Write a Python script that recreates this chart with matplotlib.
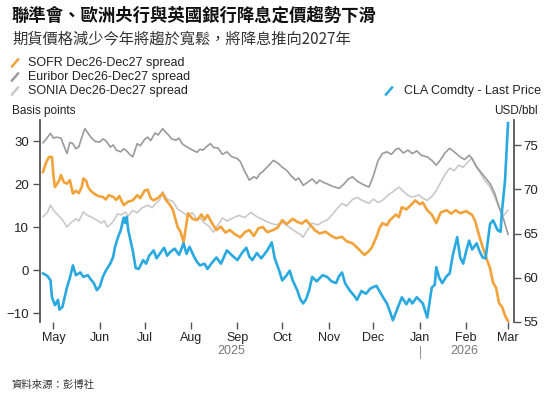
import numpy as np
import matplotlib
matplotlib.use("Agg")
import matplotlib.pyplot as plt
import matplotlib.dates as mdates
from matplotlib.lines import Line2D

plt.rcParams["font.family"] = ["Liberation Sans", "Noto Sans CJK TC", "DejaVu Sans"]

# --- data ---
sofr_dates = ["2025-04-24", "2025-04-26", "2025-04-28", "2025-04-30", "2025-05-01", "2025-05-02",
              "2025-05-05", "2025-05-06", "2025-05-08", "2025-05-10", "2025-05-12", "2025-05-14",
              "2025-05-16", "2025-05-18", "2025-05-20", "2025-05-21", "2025-05-23", "2025-05-24",
              "2025-05-26", "2025-05-28", "2025-05-31", "2025-06-03", "2025-06-05", "2025-06-07",
              "2025-06-10", "2025-06-12", "2025-06-14", "2025-06-17", "2025-06-20", "2025-06-23",
              "2025-06-26", "2025-06-28", "2025-07-01", "2025-07-03", "2025-07-05", "2025-07-07",
              "2025-07-10", "2025-07-13", "2025-07-15", "2025-07-18", "2025-07-20", "2025-07-23",
              "2025-07-25", "2025-07-27", "2025-07-29", "2025-07-30", "2025-08-02", "2025-08-05",
              "2025-08-08", "2025-08-10", "2025-08-12", "2025-08-15", "2025-08-18", "2025-08-21",
              "2025-08-24", "2025-08-27", "2025-08-30", "2025-09-03", "2025-09-06", "2025-09-09",
              "2025-09-12", "2025-09-15", "2025-09-18", "2025-09-21", "2025-09-25", "2025-09-28",
              "2025-10-01", "2025-10-04", "2025-10-08", "2025-10-11", "2025-10-14", "2025-10-17",
              "2025-10-20", "2025-10-23", "2025-10-26", "2025-10-30", "2025-11-03", "2025-11-06",
              "2025-11-10", "2025-11-13", "2025-11-17", "2025-11-21", "2025-11-25", "2025-11-28",
              "2025-11-30", "2025-12-03", "2025-12-05", "2025-12-07", "2025-12-10", "2025-12-12",
              "2025-12-16", "2025-12-18", "2025-12-20", "2025-12-23", "2025-12-26", "2025-12-29",
              "2026-01-01", "2026-01-03", "2026-01-06", "2026-01-09", "2026-01-12", "2026-01-15",
              "2026-01-19", "2026-01-22", "2026-01-25", "2026-01-28", "2026-02-01", "2026-02-05",
              "2026-02-07", "2026-02-10", "2026-02-12", "2026-02-15", "2026-02-17", "2026-02-19",
              "2026-02-21", "2026-02-23", "2026-02-25", "2026-02-27", "2026-03-01"]
sofr_vals = [22.9, 25.0, 26.4, 26.4, 22.0, 19.4, 21.0, 22.2, 20.5, 20.2, 21.0, 17.9,
             18.5, 18.0, 19.5, 21.4, 20.8, 19.5, 18.5, 17.9, 17.3, 17.1, 16.5, 17.5,
             17.1, 16.4, 17.3, 15.2, 16.0, 16.3, 17.5, 16.8, 18.6, 18.8, 16.8, 16.3,
             16.9, 17.9, 16.5, 15.2, 14.0, 10.1, 9.0, 6.5, 11.0, 13.3, 12.0, 11.7,
             13.0, 11.8, 12.9, 11.0, 9.4, 10.2, 8.8, 9.4, 8.5, 7.7, 8.9, 9.4,
             8.0, 9.8, 10.1, 8.9, 9.4, 10.0, 11.7, 10.8, 12.0, 11.3, 10.9, 11.7,
             10.5, 9.3, 8.6, 9.0, 8.0, 7.5, 7.8, 6.8, 6.3, 5.0, 3.6, 4.5,
             5.4, 7.8, 9.8, 11.0, 10.5, 11.7, 13.0, 12.4, 14.7, 14.2, 15.2, 16.3,
             15.4, 15.8, 14.0, 13.0, 11.0, 13.5, 14.0, 13.2, 14.0, 13.3, 13.8, 12.9,
             11.5, 7.7, 5.5, 2.4, 0.5, -2.9, -4.0, -7.6, -8.5, -10.5, -11.8]

euribor_dates = ["2025-04-24", "2025-04-26", "2025-04-29", "2025-05-01", "2025-05-03", "2025-05-06",
                 "2025-05-08", "2025-05-10", "2025-05-12", "2025-05-14", "2025-05-16", "2025-05-18",
                 "2025-05-20", "2025-05-22", "2025-05-24", "2025-05-26", "2025-05-29", "2025-06-01",
                 "2025-06-03", "2025-06-05", "2025-06-08", "2025-06-10", "2025-06-12", "2025-06-15",
                 "2025-06-17", "2025-06-19", "2025-06-21", "2025-06-23", "2025-06-26", "2025-06-28",
                 "2025-07-01", "2025-07-03", "2025-07-05", "2025-07-08", "2025-07-10", "2025-07-13",
                 "2025-07-15", "2025-07-17", "2025-07-19", "2025-07-22", "2025-07-24", "2025-07-26",
                 "2025-07-28", "2025-07-31", "2025-08-03", "2025-08-05", "2025-08-07", "2025-08-09",
                 "2025-08-12", "2025-08-14", "2025-08-16", "2025-08-19", "2025-08-22", "2025-08-25",
                 "2025-08-28", "2025-09-01", "2025-09-03", "2025-09-06", "2025-09-09", "2025-09-12",
                 "2025-09-14", "2025-09-16", "2025-09-18", "2025-09-21", "2025-09-23", "2025-09-25",
                 "2025-09-28", "2025-10-01", "2025-10-04", "2025-10-07", "2025-10-10", "2025-10-12",
                 "2025-10-15", "2025-10-18", "2025-10-21", "2025-10-24", "2025-10-26", "2025-10-29",
                 "2025-11-01", "2025-11-04", "2025-11-08", "2025-11-11", "2025-11-14", "2025-11-17",
                 "2025-11-20", "2025-11-24", "2025-11-28", "2025-12-01", "2025-12-04", "2025-12-07",
                 "2025-12-10", "2025-12-13", "2025-12-16", "2025-12-18", "2025-12-21", "2025-12-24",
                 "2025-12-27", "2025-12-30", "2026-01-02", "2026-01-06", "2026-01-09", "2026-01-12",
                 "2026-01-15", "2026-01-18", "2026-01-21", "2026-01-24", "2026-01-28", "2026-01-31",
                 "2026-02-03", "2026-02-05", "2026-02-08", "2026-02-11", "2026-02-14", "2026-02-17",
                 "2026-02-20", "2026-02-23", "2026-02-26", "2026-03-01"]
euribor_vals = [29.7, 30.5, 31.9, 30.8, 31.0, 30.8, 29.0, 27.2, 29.8, 29.5, 28.3, 28.8,
                31.0, 33.0, 32.0, 31.0, 30.0, 29.9, 30.6, 30.2, 28.7, 29.2, 28.0, 27.6,
                28.3, 27.8, 27.0, 26.4, 29.5, 29.0, 30.5, 31.0, 30.2, 32.0, 31.5, 33.0,
                32.2, 31.5, 30.6, 30.3, 30.8, 29.5, 29.0, 28.4, 27.8, 27.5, 28.2, 28.0,
                29.0, 29.5, 28.6, 28.5, 27.0, 27.6, 26.5, 26.0, 25.3, 23.0, 21.0, 21.8,
                21.4, 22.5, 23.0, 24.1, 24.8, 25.6, 25.0, 24.0, 23.3, 22.0, 21.0, 21.5,
                19.8, 20.5, 21.3, 20.2, 21.0, 20.4, 20.0, 19.5, 19.1, 20.0, 21.2, 21.8,
                20.8, 20.0, 19.4, 22.0, 25.5, 27.2, 27.6, 27.0, 28.2, 28.4, 27.3, 28.0,
                27.2, 27.8, 26.8, 26.4, 25.6, 24.5, 25.8, 27.4, 28.4, 27.6, 26.4, 25.8,
                26.8, 26.0, 24.1, 22.8, 21.5, 20.2, 18.0, 14.8, 12.0, 8.4]

sonia_dates = ["2025-04-24", "2025-04-27", "2025-04-29", "2025-05-01", "2025-05-04", "2025-05-07",
               "2025-05-10", "2025-05-13", "2025-05-16", "2025-05-18", "2025-05-21", "2025-05-24",
               "2025-05-27", "2025-05-30", "2025-06-02", "2025-06-04", "2025-06-06", "2025-06-09",
               "2025-06-11", "2025-06-13", "2025-06-15", "2025-06-18", "2025-06-20", "2025-06-23",
               "2025-06-26", "2025-06-29", "2025-07-03", "2025-07-06", "2025-07-09", "2025-07-11",
               "2025-07-13", "2025-07-16", "2025-07-20", "2025-07-23", "2025-07-26", "2025-07-29",
               "2025-08-02", "2025-08-05", "2025-08-07", "2025-08-10", "2025-08-13", "2025-08-16",
               "2025-08-19", "2025-08-22", "2025-08-25", "2025-08-29", "2025-09-02", "2025-09-06",
               "2025-09-10", "2025-09-14", "2025-09-18", "2025-09-23", "2025-09-27", "2025-10-01",
               "2025-10-06", "2025-10-10", "2025-10-13", "2025-10-15", "2025-10-18", "2025-10-21",
               "2025-10-25", "2025-10-28", "2025-10-31", "2025-11-03", "2025-11-07", "2025-11-10",
               "2025-11-13", "2025-11-17", "2025-11-20", "2025-11-24", "2025-11-28", "2025-12-01",
               "2025-12-04", "2025-12-07", "2025-12-11", "2025-12-14", "2025-12-18", "2025-12-21",
               "2025-12-24", "2025-12-27", "2025-12-31", "2026-01-03", "2026-01-06", "2026-01-09",
               "2026-01-12", "2026-01-15", "2026-01-18", "2026-01-21", "2026-01-24", "2026-01-27",
               "2026-01-30", "2026-02-02", "2026-02-05", "2026-02-07", "2026-02-10", "2026-02-13",
               "2026-02-17", "2026-02-20", "2026-02-23", "2026-02-26", "2026-03-01"]
sonia_vals = [12.5, 13.5, 15.2, 14.0, 12.9, 11.8, 10.1, 11.2, 12.0, 11.5, 13.6, 12.8,
              12.3, 11.7, 11.0, 11.6, 10.1, 11.0, 12.0, 13.2, 12.9, 13.6, 12.6, 14.0,
              13.4, 14.5, 15.2, 14.6, 15.8, 16.4, 18.3, 16.6, 16.0, 14.3, 13.6, 12.9,
              13.4, 11.8, 12.2, 11.0, 10.3, 8.9, 10.5, 12.2, 11.5, 12.2, 12.8, 12.3,
              13.5, 12.5, 11.8, 11.0, 10.6, 11.2, 10.0, 9.0, 8.4, 7.7, 9.5, 11.0,
              10.6, 11.3, 11.7, 12.8, 14.5, 15.6, 15.0, 16.5, 17.0, 16.2, 15.6, 16.6,
              15.8, 16.3, 17.6, 18.3, 19.4, 18.4, 17.5, 17.0, 17.6, 16.8, 16.3, 17.2,
              18.6, 20.5, 22.4, 23.8, 23.2, 24.5, 24.0, 25.2, 26.1, 24.6, 22.9, 21.2,
              19.4, 17.2, 14.5, 12.8, 14.0]

oil_dates = ["2025-04-24", "2025-04-27", "2025-04-29", "2025-04-30", "2025-05-02", "2025-05-04",
             "2025-05-05", "2025-05-07", "2025-05-10", "2025-05-12", "2025-05-14", "2025-05-16",
             "2025-05-19", "2025-05-21", "2025-05-24", "2025-05-26", "2025-05-28", "2025-05-30",
             "2025-06-01", "2025-06-03", "2025-06-05", "2025-06-08", "2025-06-10", "2025-06-11",
             "2025-06-13", "2025-06-15", "2025-06-17", "2025-06-18", "2025-06-19", "2025-06-20",
             "2025-06-23", "2025-06-25", "2025-06-27", "2025-06-30", "2025-07-02", "2025-07-04",
             "2025-07-07", "2025-07-09", "2025-07-11", "2025-07-14", "2025-07-16", "2025-07-18",
             "2025-07-21", "2025-07-24", "2025-07-27", "2025-07-29", "2025-07-31", "2025-08-03",
             "2025-08-05", "2025-08-07", "2025-08-10", "2025-08-12", "2025-08-15", "2025-08-18",
             "2025-08-21", "2025-08-25", "2025-08-28", "2025-09-01", "2025-09-04", "2025-09-07",
             "2025-09-09", "2025-09-11", "2025-09-14", "2025-09-17", "2025-09-21", "2025-09-24",
             "2025-09-26", "2025-09-29", "2025-10-01", "2025-10-04", "2025-10-06", "2025-10-08",
             "2025-10-11", "2025-10-13", "2025-10-15", "2025-10-17", "2025-10-19", "2025-10-21",
             "2025-10-24", "2025-10-28", "2025-10-31", "2025-11-03", "2025-11-06", "2025-11-08",
             "2025-11-10", "2025-11-12", "2025-11-15", "2025-11-18", "2025-11-20", "2025-11-23",
             "2025-11-26", "2025-11-29", "2025-12-03", "2025-12-06", "2025-12-10", "2025-12-12",
             "2025-12-14", "2025-12-17", "2025-12-20", "2025-12-23", "2025-12-25", "2025-12-27",
             "2025-12-30", "2026-01-03", "2026-01-06", "2026-01-09", "2026-01-11", "2026-01-12",
             "2026-01-14", "2026-01-16", "2026-01-19", "2026-01-21", "2026-01-23", "2026-01-26",
             "2026-01-28", "2026-01-30", "2026-02-01", "2026-02-03", "2026-02-05", "2026-02-08",
             "2026-02-10", "2026-02-12", "2026-02-14", "2026-02-17", "2026-02-19", "2026-02-22",
             "2026-02-24", "2026-02-25", "2026-02-27", "2026-03-01"]
oil_vals = [60.5, 60.2, 59.7, 57.8, 56.9, 57.5, 56.4, 56.7, 58.9, 60.0, 61.4, 60.3,
            60.6, 60.1, 60.3, 59.8, 59.4, 58.6, 59.0, 60.1, 60.8, 61.6, 62.4, 63.4,
            64.5, 65.4, 66.8, 66.2, 66.9, 65.4, 63.1, 61.1, 61.0, 62.0, 61.6, 62.5,
            63.1, 62.2, 62.7, 63.4, 62.5, 62.9, 63.3, 62.6, 63.9, 62.7, 63.5, 62.4,
            61.8, 61.4, 61.6, 61.0, 61.7, 62.3, 61.6, 63.1, 62.6, 62.0, 62.8, 63.4,
            62.4, 62.0, 62.8, 62.2, 63.1, 64.0, 62.2, 60.8, 59.7, 60.3, 60.8, 59.7,
            58.6, 57.6, 57.1, 57.6, 58.6, 60.1, 59.6, 60.3, 60.1, 59.6, 59.4, 60.2,
            60.6, 59.4, 58.6, 58.0, 57.5, 58.5, 58.2, 58.8, 59.1, 58.2, 57.1, 56.2,
            55.2, 56.5, 57.8, 57.0, 57.6, 57.1, 57.8, 57.1, 55.5, 58.9, 59.2, 61.2,
            60.0, 59.4, 60.2, 60.5, 62.5, 64.6, 62.3, 61.6, 63.0, 64.2, 63.2, 63.9,
            63.0, 62.3, 62.2, 66.1, 66.5, 65.4, 65.2, 67.6, 71.0, 77.5]

ORANGE = "#f2a23a"
BLUE = "#2aa9e0"
GRAY = "#9a9a9a"
LIGHT = "#c9c9c9"
W, H = 553, 396


def fx(px):
    return px / W


def fy(py):
    return 1 - py / H


def to_dates(lst):
    return np.array(lst, dtype="datetime64[D]")


fig = plt.figure(figsize=(W / 100, H / 100), dpi=100)
ax = fig.add_axes([fx(40), fy(322), fx(514) - fx(40), fy(120) - fy(322)])
ax2 = ax.twinx()

ax.plot(to_dates(sonia_dates), sonia_vals, color=LIGHT, lw=1.2, zorder=2)
ax.plot(to_dates(euribor_dates), euribor_vals, color=GRAY, lw=1.2, zorder=3)
ax.plot(to_dates(sofr_dates), sofr_vals, color=ORANGE, lw=1.9, zorder=4)
ax2.plot(to_dates(oil_dates), oil_vals, color=BLUE, lw=1.9)

ax.set_xlim(np.datetime64("2025-04-22"), np.datetime64("2026-03-05"))
ax.set_ylim(-12, 35)
ax2.set_ylim(55, 77.85)
ax.set_yticks([-10, 0, 10, 20, 30])
ax2.set_yticks([55, 60, 65, 70, 75])

ax.xaxis.set_major_locator(mdates.MonthLocator())
ax.xaxis.set_major_formatter(mdates.DateFormatter("%b"))

for a in (ax, ax2):
    a.set_facecolor("none")
    a.spines["top"].set_visible(False)
    a.spines["bottom"].set_visible(False)
ax.spines["right"].set_visible(False)
ax2.spines["left"].set_visible(False)
ax.spines["left"].set_color("#555555")
ax.spines["left"].set_linewidth(1.3)
ax2.spines["right"].set_color("#555555")
ax2.spines["right"].set_linewidth(1.3)

ax.tick_params(axis="y", length=5, width=1, color="#555555", pad=3, labelsize=9.5, labelcolor="#222222")
ax2.tick_params(axis="y", length=5, width=1, color="#555555", pad=2, labelsize=9.5, labelcolor="#222222")
ax.tick_params(axis="x", length=5, width=1, color="#555555", pad=2, labelsize=9, labelcolor="#222222")

# year labels under the month axis
ax.text(np.datetime64("2025-08-28"), -0.145, "2025", transform=ax.get_xaxis_transform(),
        ha="center", va="center", fontsize=9, color="#777777")
ax.text(np.datetime64("2026-01-31"), -0.145, "2026", transform=ax.get_xaxis_transform(),
        ha="center", va="center", fontsize=9, color="#777777")
ax.plot([np.datetime64("2026-01-01")] * 2, [-0.12, -0.18], transform=ax.get_xaxis_transform(),
        color="#999999", lw=0.8, clip_on=False)

# titles
fig.text(fx(12), fy(16), "聯準會、歐洲央行與英國銀行降息定價趨勢下滑", fontsize=12.5,
         fontweight="bold", family=["Noto Sans CJK TC"], va="center", color="#111111")
fig.text(fx(12), fy(39.5), "期貨價格減少今年將趨於寬鬆，將降息推向2027年", fontsize=11,
         family=["Noto Sans CJK TC"], va="center", color="#333333")

# legend
legend_rows = [("SOFR Dec26-Dec27 spread", ORANGE, 63), ("Euribor Dec26-Dec27 spread", GRAY, 77),
               ("SONIA Dec26-Dec27 spread", LIGHT, 91)]
for label, col, y in legend_rows:
    fig.add_artist(Line2D([fx(12), fx(18)], [fy(y + 3.5), fy(y - 3.5)], color=col, lw=1.8,
                          transform=fig.transFigure))
    fig.text(fx(28), fy(y), label, fontsize=9, va="center", color="#222222")
fig.add_artist(Line2D([fx(386), fx(392)], [fy(94.5), fy(87.5)], color=BLUE, lw=1.8,
                      transform=fig.transFigure))
fig.text(fx(541), fy(91), "CLA Comdty - Last Price", fontsize=9, va="center", ha="right", color="#222222")

fig.text(fx(12), fy(111), "Basis points", fontsize=8.5, va="center", color="#222222")
fig.text(fx(538), fy(111), "USD/bbl", fontsize=8.5, va="center", ha="right", color="#222222")

fig.text(fx(11), fy(385), "資料來源：彭博社", fontsize=7.5, family=["Noto Sans CJK TC"],
         va="center", color="#333333")

fig.savefig("out.png", dpi=100)
plt.close(fig)
